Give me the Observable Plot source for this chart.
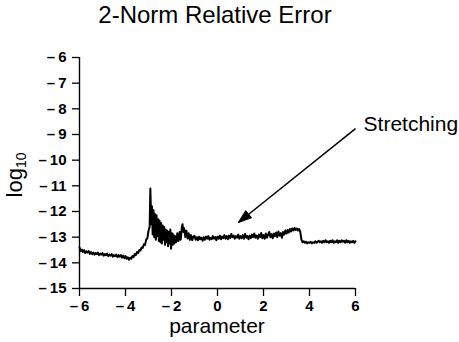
<!DOCTYPE html>
<html>
<head>
<meta charset="utf-8">
<script src="https://cdn.jsdelivr.net/npm/d3@7"></script>
<script src="https://cdn.jsdelivr.net/npm/@observablehq/plot@0.6"></script>
<style>
  html, body { margin: 0; padding: 0; background: white; }
</style>
</head>
<body>
<div id="chart"></div>
<script>
const titleText = "2-Norm Relative Error";
const xLabel = "parameter";
const yLabelMain = "log";
const yLabelSub = "10";
const xTicks = [-6, -4, -2, 0, 2, 4, 6];
const yTicks = [-15, -14, -13, -12, -11, -10, -9, -8, -7, -6];

const params = [
  -6.00, -5.95, -5.90, -5.85, -5.80, -5.75, -5.70, -5.65, -5.60, -5.55,
  -5.50, -5.45, -5.40, -5.35, -5.30, -5.25, -5.20, -5.15, -5.10, -5.05,
  -5.00, -4.95, -4.90, -4.85, -4.80, -4.75, -4.70, -4.65, -4.60, -4.55,
  -4.50, -4.45, -4.40, -4.35, -4.30, -4.25, -4.20, -4.15, -4.10, -4.05,
  -4.00, -3.95, -3.90, -3.85, -3.80, -3.75, -3.70, -3.65, -3.60, -3.55,
  -3.50, -3.45, -3.40, -3.35, -3.30, -3.25, -3.20, -3.15, -3.10, -3.05,
  -3.00, -2.95,
  -2.92, -2.88, -2.85, -2.82, -2.78, -2.75, -2.72, -2.68, -2.65, -2.62,
  -2.58, -2.55, -2.52, -2.48, -2.45, -2.42, -2.38, -2.35, -2.32, -2.28,
  -2.25, -2.22, -2.18, -2.15, -2.12, -2.08, -2.05, -2.02, -1.98, -1.95,
  -1.92, -1.88, -1.85, -1.80, -1.75, -1.70, -1.65, -1.60, -1.55, -1.52,
  -1.48, -1.45, -1.40, -1.35, -1.30, -1.25, -1.20, -1.15, -1.10, -1.05,
  -1.00, -0.95, -0.90, -0.85, -0.80, -0.75, -0.70, -0.65, -0.60, -0.55,
  -0.50, -0.45, -0.40, -0.35, -0.30, -0.25, -0.20, -0.15, -0.10, -0.05,
  0.00, 0.05, 0.10, 0.15, 0.20, 0.25, 0.30, 0.35, 0.40, 0.45,
  0.50, 0.55, 0.60, 0.65, 0.70, 0.75, 0.80, 0.85, 0.90, 0.95,
  1.00, 1.05, 1.10, 1.15, 1.20, 1.25, 1.30, 1.35, 1.40, 1.45,
  1.50, 1.55, 1.60, 1.65, 1.70, 1.75, 1.80, 1.85, 1.90, 1.95,
  2.00, 2.05, 2.10, 2.15, 2.20, 2.25, 2.30, 2.35, 2.40, 2.45,
  2.50, 2.55, 2.60, 2.65, 2.70, 2.75, 2.80, 2.85, 2.90, 2.95,
  3.00, 3.05, 3.10, 3.15, 3.20, 3.25, 3.30, 3.35, 3.40, 3.45,
  3.50, 3.55, 3.60, 3.65, 3.70, 3.75, 3.80, 3.85, 3.90, 3.95,
  4.00, 4.05, 4.10, 4.15, 4.20, 4.25, 4.30, 4.35, 4.40, 4.45,
  4.50, 4.55, 4.60, 4.65, 4.70, 4.75, 4.80, 4.85, 4.90, 4.95,
  5.00, 5.05, 5.10, 5.15, 5.20, 5.25, 5.30, 5.35, 5.40, 5.45,
  5.50, 5.55, 5.60, 5.65, 5.70, 5.75, 5.80, 5.85, 5.90, 5.95,
  6.00
];
const log10Err = [
  -13.40, -13.55, -13.48, -13.58, -13.50, -13.62, -13.55, -13.60, -13.54, -13.65,
  -13.58, -13.66, -13.60, -13.68, -13.62, -13.66, -13.60, -13.70, -13.64, -13.68,
  -13.62, -13.72, -13.66, -13.70, -13.64, -13.74, -13.68, -13.72, -13.66, -13.76,
  -13.70, -13.74, -13.68, -13.78, -13.70, -13.76, -13.70, -13.80, -13.72, -13.82,
  -13.74, -13.84, -13.78, -13.88, -13.80, -13.84, -13.74, -13.78, -13.66, -13.70,
  -13.58, -13.62, -13.50, -13.52, -13.40, -13.42, -13.28, -13.30, -13.10, -13.05,
  -12.75, -12.60,
  -11.10, -12.50, -11.80, -12.90, -11.95, -13.00, -12.10, -13.10, -12.15, -12.95,
  -12.30, -13.15, -12.35, -13.20, -12.45, -13.25, -12.55, -13.10, -12.60, -13.30,
  -12.70, -13.20, -12.75, -13.35, -12.80, -13.25, -12.70, -13.45, -12.85, -13.30,
  -12.90, -13.25, -12.95, -13.20, -12.85, -13.15, -12.80, -13.10, -12.60, -12.50,
  -12.80, -12.65, -13.00, -12.75, -13.05, -12.85, -13.10, -12.92, -13.12, -12.98,
  -12.95, -13.10, -13.00, -13.12, -12.98, -13.08, -13.02, -13.14, -13.00, -13.10,
  -12.98, -13.06, -12.96, -13.10, -13.02, -13.08, -12.96, -13.06, -13.00, -13.12,
  -12.98, -13.06, -12.94, -13.08, -12.98, -13.04, -12.92, -13.06, -12.96, -13.08,
  -12.94, -13.04, -12.88, -13.00, -12.94, -13.06, -12.96, -13.02, -12.90, -13.06,
  -12.96, -13.04, -12.92, -13.06, -12.88, -13.02, -12.96, -13.08, -12.94, -13.04,
  -12.90, -13.00, -12.86, -13.02, -12.94, -13.06, -12.90, -13.00, -12.84, -13.04,
  -12.92, -13.06, -12.86, -13.02, -12.90, -12.80, -13.00, -12.88, -13.04, -12.86,
  -12.96, -12.82, -13.00, -12.78, -12.94, -12.84, -13.02, -12.80, -12.90, -12.74,
  -12.86, -12.72, -12.82, -12.68, -12.78, -12.66, -12.74, -12.64, -12.72, -12.66,
  -12.74, -12.68, -12.80, -13.10, -13.20, -13.16, -13.22, -13.18, -13.24, -13.20,
  -13.22, -13.18, -13.24, -13.20, -13.22, -13.16, -13.22, -13.18, -13.14, -13.20,
  -13.16, -13.22, -13.14, -13.20, -13.12, -13.20, -13.16, -13.22, -13.14, -13.20,
  -13.12, -13.22, -13.16, -13.20, -13.12, -13.22, -13.14, -13.20, -13.12, -13.18,
  -13.14, -13.22, -13.12, -13.20, -13.14, -13.22, -13.16, -13.20, -13.14, -13.22,
  -13.16
];

const annLabel = "Stretching";
const annTail = [6.0, -8.77];
const annHead = [0.91, -12.43];
const annText = [6.35, -8.62];

const data = params.map((p, i) => ({p, e: log10Err[i]}));
const ann = [{x1: annTail[0], y1: annTail[1], x2: annHead[0], y2: annHead[1], tx: annText[0], ty: annText[1], label: annLabel}];

const fmt = d => d < 0 ? "\u2013\u2009" + Math.abs(d) : String(d);

const headShape = {
  draw(context) {
    context.moveTo(0, 0);
    context.lineTo(-4.5, 13);
    context.lineTo(4.5, 13);
    context.closePath();
  }
};

const chart = Plot.plot({
  width: 459,
  height: 342,
  marginLeft: 79,
  marginRight: 104,
  marginTop: 57,
  marginBottom: 54,
  x: {domain: [-6, 6]},
  y: {domain: [-15, -6]},
  style: {fontFamily: "'Liberation Sans', Arial, sans-serif", background: "white", color: "black"},
  marks: [
    Plot.axisX(xTicks, {tickSize: 8, tickPadding: 4, tickFormat: fmt, fontSize: 15, fontWeight: "bold", label: null, strokeWidth: 1.3}),
    Plot.axisY(yTicks, {tickSize: 7, tickPadding: 6, tickFormat: fmt, fontSize: 15, fontWeight: "bold", label: null, strokeWidth: 1.3}),
    Plot.ruleX([-6], {strokeWidth: 1.4}),
    Plot.ruleY([-15], {strokeWidth: 1.4}),
    Plot.line(data, {x: "p", y: "e", stroke: "black", strokeWidth: 2}),
    Plot.link(ann, {x1: "x1", y1: "y1", x2: "x2", y2: "y2", stroke: "black", strokeWidth: 1.5}),
    Plot.vector(ann, {x: "x2", y: "y2", rotate: 231, anchor: "start", length: 1, shape: headShape, fill: "black", stroke: "black", strokeWidth: 1}),
    Plot.text(ann, {x: "tx", y: "ty", text: "label", textAnchor: "start", fontSize: 21})
  ]
});

const svg = d3.select(chart);
svg.append("text")
  .attr("x", 215).attr("y", 23)
  .attr("text-anchor", "middle")
  .attr("font-size", 24)
  .attr("fill", "black")
  .text(titleText);
svg.append("text")
  .attr("x", 217).attr("y", 333)
  .attr("text-anchor", "middle")
  .attr("font-size", 21)
  .attr("fill", "black")
  .text(xLabel);
const yl = svg.append("text")
  .attr("transform", "translate(22,175) rotate(-90)")
  .attr("text-anchor", "middle")
  .attr("fill", "black");
yl.append("tspan").attr("font-size", 22).text(yLabelMain);
yl.append("tspan").attr("font-size", 14).attr("dy", 4).text(yLabelSub);

document.getElementById("chart").appendChild(chart);
</script>
</body>
</html>
